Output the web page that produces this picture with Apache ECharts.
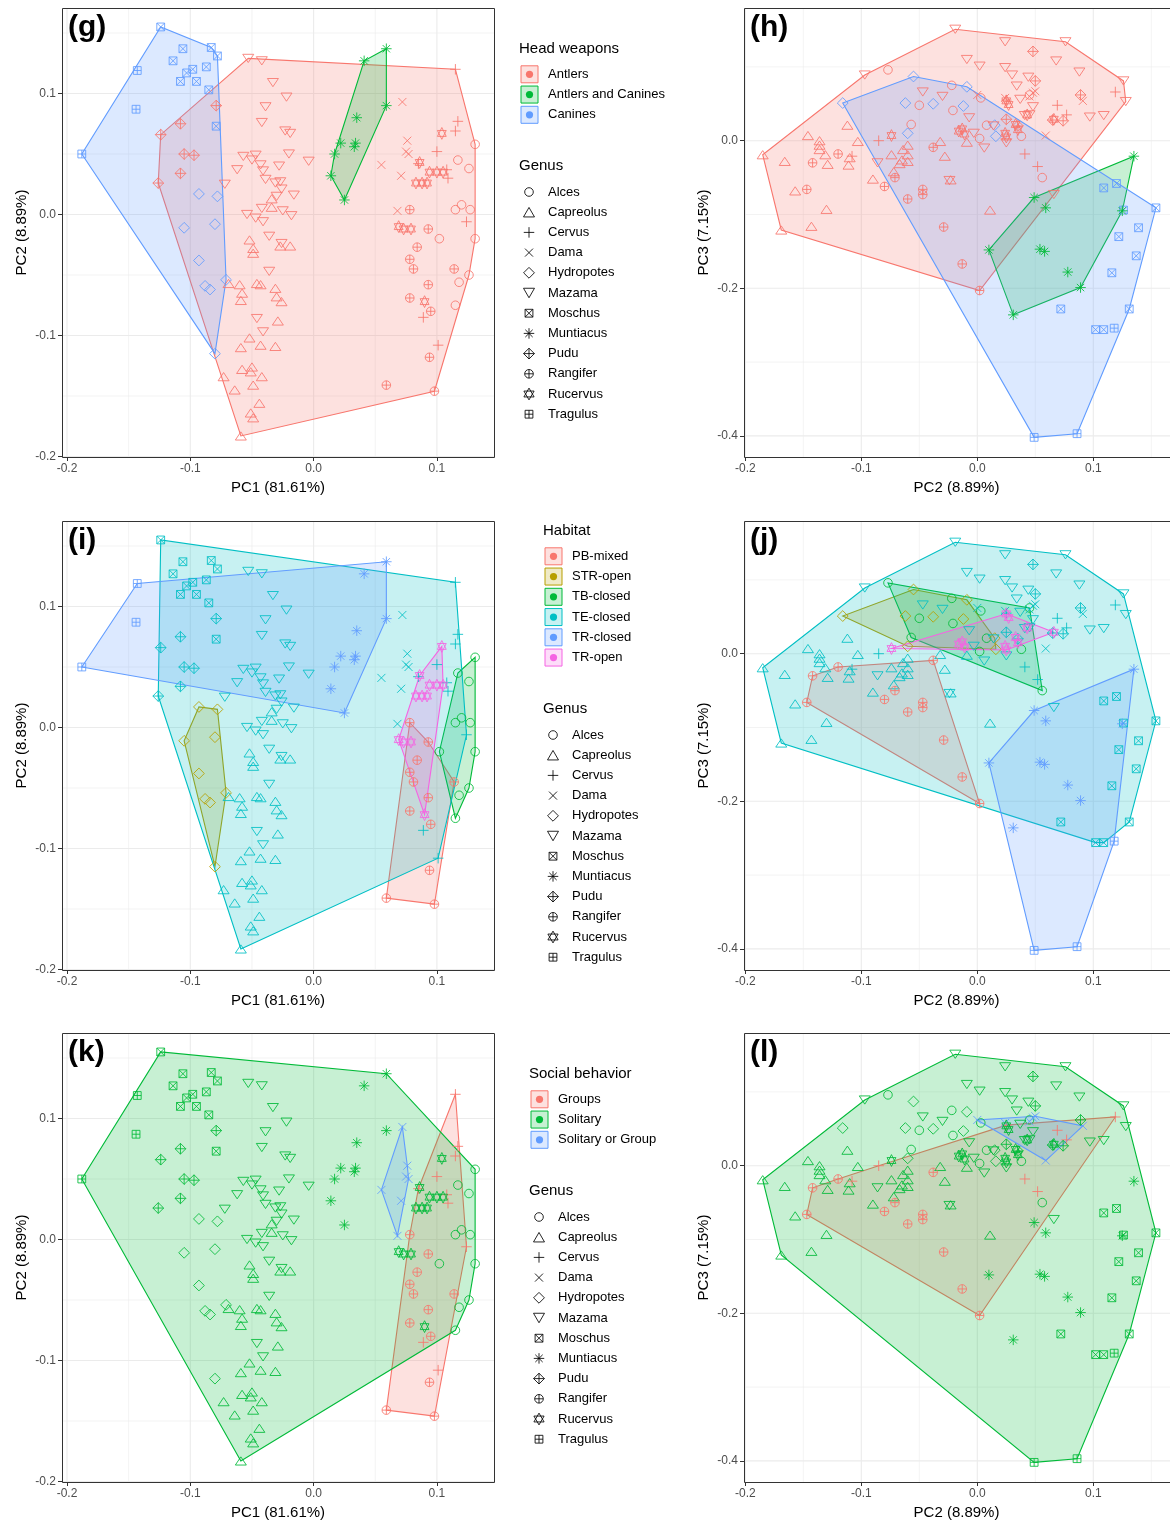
<!DOCTYPE html>
<html><head><meta charset="utf-8">
<script src="https://cdn.jsdelivr.net/npm/echarts@6/dist/echarts.min.js"></script>
<style>html,body{margin:0;padding:0;background:#fff}#c{width:1170px;height:1522px}</style>
</head><body><div id="c"></div>
<script>
// ---------------- DATA ----------------
const genera = ['Alces','Capreolus','Cervus','Dama','Hydropotes','Mazama','Moschus','Muntiacus','Pudu','Rangifer','Rucervus','Tragulus'];

// PC1 vs PC2 (left panels)
const alces12 = [[0.131,0.058],[0.117,0.045],[0.126,0.038],[0.115,0.004],[0.120,0.008],[0.127,0.004],[0.131,-0.020],[0.102,-0.020],[0.126,-0.050],[0.118,-0.056],[0.115,-0.075]];
const capreolus12 = [[-0.052,-0.021],[-0.049,-0.028],[-0.049,-0.032],[-0.060,-0.058],[-0.058,-0.065],[-0.059,-0.071],[-0.046,-0.057],[-0.043,-0.058],[-0.031,-0.061],[-0.030,-0.068],[-0.069,-0.057],[-0.052,-0.102],[-0.059,-0.110],[-0.043,-0.108],[-0.031,-0.109],[-0.073,-0.134],[-0.058,-0.128],[-0.050,-0.126],[-0.051,-0.130],[-0.042,-0.134],[-0.049,-0.141],[-0.064,-0.145],[-0.044,-0.156],[-0.051,-0.164],[-0.049,-0.168],[-0.059,-0.183],[-0.027,-0.026],[-0.019,-0.026],[-0.026,-0.072],[-0.029,-0.088],[-0.034,0.013],[-0.034,0.006]];
const cervus12 = [[0.115,0.120],[0.117,0.077],[0.115,0.069],[0.100,0.052],[0.108,0.037],[0.109,0.030],[0.124,-0.006],[0.089,-0.085],[0.101,-0.108],[0.085,0.042]];
const dama12 = [[0.072,0.093],[0.076,0.061],[0.075,0.052],[0.077,0.050],[0.055,0.041],[0.071,0.032],[0.068,0.003]];
const hydropotes12 = [[-0.093,0.017],[-0.078,0.015],[-0.105,-0.011],[-0.080,-0.008],[-0.093,-0.038],[-0.088,-0.059],[-0.084,-0.062],[-0.071,-0.054],[-0.080,-0.115]];
const mazama12 = [[-0.053,0.129],[-0.042,0.127],[-0.033,0.109],[-0.022,0.097],[-0.039,0.089],[-0.042,0.076],[-0.023,0.069],[-0.019,0.067],[-0.057,0.048],[-0.047,0.049],[-0.050,0.045],[-0.043,0.041],[-0.062,0.037],[-0.041,0.036],[-0.039,0.029],[-0.031,0.026],[-0.072,0.025],[-0.020,0.050],[-0.004,0.044],[-0.027,0.027],[-0.026,0.021],[-0.016,0.016],[-0.042,0.005],[-0.041,-0.006],[-0.025,0.003],[-0.018,-0.001],[-0.036,-0.018],[-0.026,-0.024],[-0.036,-0.047],[-0.046,-0.086],[-0.041,-0.097],[-0.054,0.000],[-0.047,-0.003],[-0.030,0.015],[-0.028,0.040]];
const moschus12 = [[-0.124,0.155],[-0.083,0.138],[-0.078,0.131],[-0.106,0.137],[-0.114,0.127],[-0.098,0.120],[-0.103,0.117],[-0.087,0.122],[-0.108,0.110],[-0.095,0.110],[-0.085,0.103],[-0.079,0.073]];
const muntiacus12 = [[0.059,0.137],[0.041,0.127],[0.059,0.090],[0.035,0.080],[0.022,0.059],[0.034,0.059],[0.033,0.056],[0.017,0.050],[0.014,0.032],[0.025,0.012]];
const pudu12 = [[-0.079,0.090],[-0.108,0.075],[-0.124,0.066],[-0.105,0.050],[-0.097,0.049],[-0.108,0.034],[-0.126,0.026]];
const rangifer12 = [[0.078,0.004],[0.093,-0.012],[0.084,-0.027],[0.078,-0.037],[0.081,-0.045],[0.114,-0.045],[0.093,-0.058],[0.078,-0.069],[0.095,-0.080],[0.094,-0.118],[0.059,-0.141],[0.098,-0.146]];
const rucervus12 = [[0.104,0.067],[0.086,0.043],[0.094,0.035],[0.100,0.035],[0.105,0.035],[0.083,0.026],[0.088,0.026],[0.092,0.026],[0.069,-0.010],[0.073,-0.012],[0.079,-0.012],[0.090,-0.072]];
const tragulus12 = [[-0.143,0.119],[-0.144,0.087],[-0.188,0.050]];

// PC2 vs PC3 (right panels)
const alces23 = [[-0.077,0.096],[0.045,0.062],[0.056,-0.050],[-0.057,0.022],[-0.022,0.075],[0.003,0.058],[-0.050,0.048],[-0.021,0.041],[0.008,0.021],[0.002,0.003],[0.038,0.006]];
const capreolus23 = [[-0.185,-0.019],[-0.169,-0.121],[-0.166,-0.028],[-0.146,0.007],[-0.136,0.000],[-0.136,-0.006],[-0.136,-0.012],[-0.131,-0.019],[-0.129,-0.032],[-0.157,-0.068],[-0.130,-0.093],[-0.143,-0.116],[-0.112,0.021],[-0.103,-0.001],[-0.110,-0.023],[-0.111,-0.033],[-0.090,-0.052],[-0.074,-0.019],[-0.065,-0.026],[-0.067,-0.031],[-0.060,-0.019],[-0.060,-0.028],[-0.072,-0.042],[-0.060,-0.006],[-0.032,-0.001],[-0.028,-0.021],[-0.023,-0.053],[0.011,-0.094],[-0.009,-0.002],[-0.064,-0.012]];
const cervus23 = [[0.119,0.066],[0.069,0.048],[0.077,0.035],[0.041,-0.018],[0.052,-0.035],[-0.085,0.000],[-0.108,-0.021],[0.025,0.055]];
const dama23 = [[0.000,0.062],[0.048,0.065],[0.091,0.054],[0.059,0.007],[0.050,0.067],[0.024,0.058],[0.045,0.060]];
const hydropotes23 = [[-0.116,0.051],[-0.055,0.087],[-0.062,0.051],[-0.038,0.050],[-0.012,0.047],[-0.009,0.073],[-0.060,0.010],[0.016,0.006],[0.015,0.021]];
const mazama23 = [[-0.019,0.151],[0.024,0.134],[0.076,0.134],[-0.009,0.110],[0.002,0.101],[0.024,0.099],[0.030,0.089],[0.044,0.086],[0.068,0.108],[0.088,0.093],[0.126,0.081],[0.128,0.053],[0.097,0.032],[0.109,0.034],[0.034,0.074],[-0.047,0.066],[-0.030,0.060],[-0.007,0.031],[-0.097,0.089],[0.037,0.056],[0.048,0.046],[0.045,0.035],[0.006,-0.010],[-0.003,0.010],[0.025,-0.003],[-0.086,-0.030],[0.066,-0.073],[-0.024,-0.054],[0.041,0.034],[0.014,0.020]];
const moschus23 = [[0.109,-0.064],[0.120,-0.058],[0.154,-0.091],[0.126,-0.094],[0.139,-0.118],[0.122,-0.130],[0.137,-0.156],[0.116,-0.179],[0.072,-0.228],[0.131,-0.228],[0.102,-0.256],[0.109,-0.256]];
const muntiacus23 = [[0.135,-0.021],[0.049,-0.077],[0.059,-0.091],[0.125,-0.095],[0.010,-0.148],[0.054,-0.147],[0.058,-0.150],[0.078,-0.178],[0.089,-0.199],[0.031,-0.236]];
const pudu23 = [[0.048,0.121],[0.050,0.081],[0.089,0.062],[0.074,0.027],[0.025,0.029],[0.065,0.028],[0.035,0.020]];
const rangifer23 = [[-0.142,-0.030],[-0.147,-0.066],[-0.120,-0.018],[-0.038,-0.009],[-0.071,-0.050],[-0.080,-0.062],[-0.060,-0.079],[-0.047,-0.066],[-0.047,-0.073],[-0.029,-0.117],[-0.013,-0.167],[0.002,-0.203]];
const rucervus23 = [[-0.074,0.007],[0.025,0.054],[0.066,0.029],[0.025,0.005],[0.027,0.049],[-0.016,0.013],[-0.011,0.009],[-0.013,0.016],[0.033,0.022],[0.035,0.015],[0.043,0.035],[0.024,0.010]];
const tragulus23 = [[0.049,-0.402],[0.086,-0.397],[0.118,-0.254]];

// Groupings
const headLevels = ['Antlers','Antlers and Canines','Canines'];
const habitatLevels = ['PB-mixed','STR-open','TB-closed','TE-closed','TR-closed','TR-open'];
const socialLevels = ['Groups','Solitary','Solitary or Group'];
const headWeapon = {Alces:'Antlers',Capreolus:'Antlers',Cervus:'Antlers',Dama:'Antlers',Hydropotes:'Canines',Mazama:'Antlers',Moschus:'Canines',Muntiacus:'Antlers and Canines',Pudu:'Antlers',Rangifer:'Antlers',Rucervus:'Antlers',Tragulus:'Canines'};
const habitat = {Alces:'TB-closed',Capreolus:'TE-closed',Cervus:'TE-closed',Dama:'TE-closed',Hydropotes:'STR-open',Mazama:'TE-closed',Moschus:'TE-closed',Muntiacus:'TR-closed',Pudu:'TE-closed',Rangifer:'PB-mixed',Rucervus:'TR-open',Tragulus:'TR-closed'};
const social = {Alces:'Solitary',Capreolus:'Solitary',Cervus:'Groups',Dama:'Solitary or Group',Hydropotes:'Solitary',Mazama:'Solitary',Moschus:'Solitary',Muntiacus:'Solitary',Pudu:'Solitary',Rangifer:'Groups',Rucervus:'Solitary',Tragulus:'Solitary'};

// Axis ticks
const ticksLeftX = [-0.2,-0.1,0,0.1], minorLeftX = [-0.15,-0.05,0.05];
const ticksLeftY = [-0.2,-0.1,0,0.1], minorLeftY = [-0.15,-0.05,0.05,0.15];
const ticksRightX = [-0.2,-0.1,0,0.1], minorRightX = [-0.15,-0.05,0.05,0.15];
const ticksRightY = [-0.4,-0.2,0], minorRightY = [-0.3,-0.1,0.1];

// ---------------- STYLE / LAYOUT ----------------
const FONT = '"Liberation Sans", Arial, Helvetica, sans-serif';
const col3 = ['#F8766D','#00BA38','#619CFF'];
const col6 = ['#F8766D','#B79F00','#00BA38','#00BFC4','#619CFF','#F564E3'];
const FILL_A = 0.22;

// symbol parts in a 20x20 box: z = closed polygon, l = open line, c = circle
const SQ = [[0,0],[20,0],[20,20],[0,20]], DI = [[10,0],[20,10],[10,20],[0,10]];
const PV = [[10,0],[10,20]], PH = [[0,10],[20,10]], X1 = [[0,0],[20,20]], X2 = [[20,0],[0,20]];
const SYM = {
  Alces:{parts:[{c:1}], w:8.6, h:8.6},
  Capreolus:{parts:[{z:[[10,0.5],[20,17.8],[0,17.8]]}], w:11, h:9.5},
  Cervus:{parts:[{l:PV},{l:PH}], w:10.5, h:10.5},
  Dama:{parts:[{l:X1},{l:X2}], w:8, h:8},
  Hydropotes:{parts:[{z:DI}], w:10.8, h:10.8},
  Mazama:{parts:[{z:[[0,0.2],[20,0.2],[10,17.5]]}], w:11, h:9.5},
  Moschus:{parts:[{z:SQ},{l:X1},{l:X2}], w:7.8, h:7.8},
  Muntiacus:{parts:[{l:PV},{l:PH},{l:[[3,3],[17,17]]},{l:[[17,3],[3,17]]}], w:10.5, h:10.5},
  Pudu:{parts:[{z:DI},{l:PV},{l:PH}], w:10.8, h:10.8},
  Rangifer:{parts:[{c:1},{l:PV},{l:PH}], w:8.6, h:8.6},
  Rucervus:{parts:[{z:[[10,0],[18.66,15],[1.34,15]]},{z:[[10,20],[1.34,5],[18.66,5]]}], w:10.2, h:11.8},
  Tragulus:{parts:[{z:SQ},{l:PV},{l:PH}], w:7.8, h:7.8}
};
const PT_LW = 0.85;
function symPath(parts){
  return 'path://' + parts.map(p=>{
    if (p.c) return 'M0,10 A10,10 0 1,0 20,10 A10,10 0 1,0 0,10 Z';
    const a = p.z || p.l;
    return 'M' + a.map(q=>q[0]+','+q[1]).join(' L') + (p.z ? ' Z' : '');
  }).join(' ');
}
function symBBox(parts){
  let x0=1e9,y0=1e9,x1=-1e9,y1=-1e9;
  parts.forEach(p=>{ const a = p.c ? [[0,0],[20,20]] : (p.z||p.l); a.forEach(q=>{x0=Math.min(x0,q[0]);y0=Math.min(y0,q[1]);x1=Math.max(x1,q[0]);y1=Math.max(y1,q[1]);}); });
  return [x0,y0,x1,y1];
}
function symEls(g, cx, cy, color, lw){
  const s = SYM[g], b = symBBox(s.parts);
  const k = Math.min(s.w/(b[2]-b[0]), s.h/(b[3]-b[1]));
  const mx = (b[0]+b[2])/2, my = (b[1]+b[3])/2;
  const T = q => [cx + (q[0]-mx)*k, cy + (q[1]-my)*k];
  const st = {fill:'none', stroke:color, lineWidth:lw};
  return s.parts.map(p=>{
    if (p.c) { const c = T([10,10]); return {type:'circle', shape:{cx:c[0], cy:c[1], r:10*k}, style:st}; }
    if (p.z) return {type:'polygon', shape:{points:p.z.map(T)}, style:st};
    return {type:'polyline', shape:{points:p.l.map(T)}, style:st};
  });
}

const rowsTop = [8, 521, 1033];
const sides = [
  {left:62, width:432, xmin:-0.20406, xmax:0.14631, ymin:-0.20041, ymax:0.17066, extendRight:0,
   xt:ticksLeftX, xm:minorLeftX, yt:ticksLeftY, ym:minorLeftY, xname:'PC1 (81.61%)', yname:'PC2 (8.89%)', suffix:'12'},
  {left:744, width:425, xmin:-0.20112, xmax:0.16526, ymin:-0.42859, ymax:0.17981, extendRight:4,
   xt:ticksRightX, xm:minorRightX, yt:ticksRightY, ym:minorRightY, xname:'PC2 (8.89%)', yname:'PC3 (7.15%)', suffix:'23'}
];
const dataBy = {
  '12': {Alces:alces12,Capreolus:capreolus12,Cervus:cervus12,Dama:dama12,Hydropotes:hydropotes12,Mazama:mazama12,Moschus:moschus12,Muntiacus:muntiacus12,Pudu:pudu12,Rangifer:rangifer12,Rucervus:rucervus12,Tragulus:tragulus12},
  '23': {Alces:alces23,Capreolus:capreolus23,Cervus:cervus23,Dama:dama23,Hydropotes:hydropotes23,Mazama:mazama23,Moschus:moschus23,Muntiacus:muntiacus23,Pudu:pudu23,Rangifer:rangifer23,Rucervus:rucervus23,Tragulus:tragulus23}
};
const panels = [
  {lab:'(g)', side:0, row:0, map:headWeapon, levels:headLevels, cols:col3},
  {lab:'(h)', side:1, row:0, map:headWeapon, levels:headLevels, cols:col3},
  {lab:'(i)', side:0, row:1, map:habitat, levels:habitatLevels, cols:col6},
  {lab:'(j)', side:1, row:1, map:habitat, levels:habitatLevels, cols:col6},
  {lab:'(k)', side:0, row:2, map:social, levels:socialLevels, cols:col3},
  {lab:'(l)', side:1, row:2, map:social, levels:socialLevels, cols:col3}
];
const legends = [
  {x:519, y:49, title:'Head weapons', levels:headLevels, cols:col3, gy:166},
  {x:543, y:531, title:'Habitat', levels:habitatLevels, cols:col6, gy:709},
  {x:529, y:1074, title:'Social behavior', levels:socialLevels, cols:col3, gy:1191}
];

// ---------------- HELPERS ----------------
function rgba(hex, a){const n=parseInt(hex.slice(1),16);return 'rgba('+(n>>16&255)+','+(n>>8&255)+','+(n&255)+','+a+')';}
function hull(pts){
  const p = pts.slice().sort((a,b)=>a[0]-b[0]||a[1]-b[1]);
  if (p.length < 3) return p;
  const cr=(o,a,b)=>(a[0]-o[0])*(b[1]-o[1])-(a[1]-o[1])*(b[0]-o[0]);
  const lo=[]; for(const q of p){while(lo.length>=2&&cr(lo[lo.length-2],lo[lo.length-1],q)<=0)lo.pop();lo.push(q);}
  const up=[]; for(let i=p.length-1;i>=0;i--){const q=p[i];while(up.length>=2&&cr(up[up.length-2],up[up.length-1],q)<=0)up.pop();up.push(q);}
  lo.pop(); up.pop(); return lo.concat(up);
}
const fmt = v => (Math.abs(v)<1e-9 ? '0.0' : v.toFixed(1));

// ---------------- OPTION ----------------
const grid=[], xAxis=[], yAxis=[], series=[], graphic=[];
panels.forEach((pn,i)=>{
  const s = sides[pn.side];
  grid.push({left:s.left, top:rowsTop[pn.row], width:s.width, height:449, show:true, backgroundColor:'#fff', borderWidth:0, containLabel:false});
  xAxis.push({type:'value', gridIndex:i, min:s.xmin, max:s.xmax, splitLine:{show:false},
    axisLine:{show:false, onZero:false},
    axisTick:{show:true, customValues:s.xt, length:4, lineStyle:{color:'#333333', width:1}},
    axisLabel:{customValues:s.xt, formatter:fmt, color:'#4d4d4d', fontSize:12, fontFamily:FONT, margin:6},
    name:s.xname, nameLocation:'middle', nameGap:23, nameTextStyle:{fontSize:15, color:'#000', fontFamily:FONT}});
  yAxis.push({type:'value', gridIndex:i, min:s.ymin, max:s.ymax, splitLine:{show:false},
    axisLine:{show:false, onZero:false},
    axisTick:{show:true, customValues:s.yt, length:4, lineStyle:{color:'#333333', width:1}},
    axisLabel:{customValues:s.yt, formatter:fmt, color:'#4d4d4d', fontSize:12, fontFamily:FONT, margin:6},
    name:s.yname, nameLocation:'middle', nameGap:33, nameTextStyle:{fontSize:15, color:'#000', fontFamily:FONT}});
  // gridlines
  series.push({type:'custom', xAxisIndex:i, yAxisIndex:i, z:1, silent:true, clip:false, data:[[0,0]],
    renderItem:(params, api)=>{
      const cs = params.coordSys; const ch=[];
      const vline=(v,w)=>{const x=api.coord([v,0])[0]; ch.push({type:'line', shape:{x1:x,y1:cs.y,x2:x,y2:cs.y+cs.height}, style:{stroke:'#ebebeb', lineWidth:w}});};
      const hline=(v,w)=>{const y=api.coord([0,v])[1]; ch.push({type:'line', shape:{x1:cs.x,y1:y,x2:cs.x+cs.width+s.extendRight,y2:y}, style:{stroke:'#ebebeb', lineWidth:w}});};
      s.xm.forEach(v=>vline(v,0.6)); s.ym.forEach(v=>hline(v,0.6));
      s.xt.forEach(v=>vline(v,1.1)); s.yt.forEach(v=>hline(v,1.1));
      return {type:'group', children:ch};
    }});
  // panel border
  series.push({type:'custom', xAxisIndex:i, yAxisIndex:i, z:5, silent:true, clip:false, data:[[0,0]],
    renderItem:(params, api)=>{
      const cs = params.coordSys;
      return {type:'rect', shape:{x:Math.round(cs.x)+0.5, y:Math.round(cs.y)+0.5, width:Math.round(cs.width)+s.extendRight, height:Math.round(cs.height)},
        style:{fill:'none', stroke:'#333333', lineWidth:1}};
    }});
  const dat = dataBy[s.suffix];
  // hulls
  pn.levels.forEach((lv,li)=>{
    let pts=[]; genera.forEach(g=>{ if(pn.map[g]===lv) pts = pts.concat(dat[g]); });
    if(!pts.length) return;
    const h = hull(pts); const c = pn.cols[li];
    series.push({type:'custom', name:lv, xAxisIndex:i, yAxisIndex:i, z:2, silent:true, clip:false, data:[h[0]],
      renderItem:(params, api)=>({type:'polygon', shape:{points:h.map(p=>api.coord(p))}, style:{fill:rgba(c,FILL_A), stroke:c, lineWidth:1.1}})});
  });
  // points
  genera.forEach(g=>{
    const c = pn.cols[pn.levels.indexOf(pn.map[g])];
    series.push({type:'scatter', name:g, xAxisIndex:i, yAxisIndex:i, z:3, silent:true, data:dat[g],
      symbol:symPath(SYM[g].parts), symbolSize:[SYM[g].w, SYM[g].h], symbolKeepAspect:true,
      itemStyle:{color:'rgba(0,0,0,0)', borderColor:c, borderWidth:PT_LW, opacity:1}, emphasis:{disabled:true}});
  });
  graphic.push({type:'text', x:s.left+6, y:rowsTop[pn.row]+20, z:10,
    style:{text:pn.lab, font:'bold 30px '+FONT, fill:'#000', verticalAlign:'middle', align:'left'}});
});

legends.forEach(L=>{
  graphic.push({type:'text', x:L.x, y:L.y, style:{text:L.title, font:'15px '+FONT, fill:'#000', verticalAlign:'middle'}});
  L.levels.forEach((lv,i)=>{
    const cy = L.y+25.3+i*20.25, c=L.cols[i];
    graphic.push({type:'rect', shape:{x:L.x+2, y:cy-8.5, width:17, height:17}, style:{fill:rgba(c,FILL_A), stroke:c, lineWidth:1}});
    graphic.push({type:'circle', shape:{cx:L.x+10.5, cy:cy, r:3.6}, style:{fill:c}});
    graphic.push({type:'text', x:L.x+29, y:cy, style:{text:lv, font:'13px '+FONT, fill:'#000', verticalAlign:'middle'}});
  });
  graphic.push({type:'text', x:L.x, y:L.gy, style:{text:'Genus', font:'15px '+FONT, fill:'#000', verticalAlign:'middle'}});
  genera.forEach((g,i)=>{
    const cy = L.gy+26+i*20.2;
    symEls(g, L.x+10, cy, '#000', 0.85).forEach(e=>graphic.push(e));
    graphic.push({type:'text', x:L.x+29, y:cy, style:{text:g, font:'13px '+FONT, fill:'#000', verticalAlign:'middle'}});
  });
});

const chart = echarts.init(document.getElementById('c'), null, {renderer:'canvas'});
chart.setOption({animation:false, backgroundColor:'#fff', grid, xAxis, yAxis, series, graphic});
</script>
</body></html>
